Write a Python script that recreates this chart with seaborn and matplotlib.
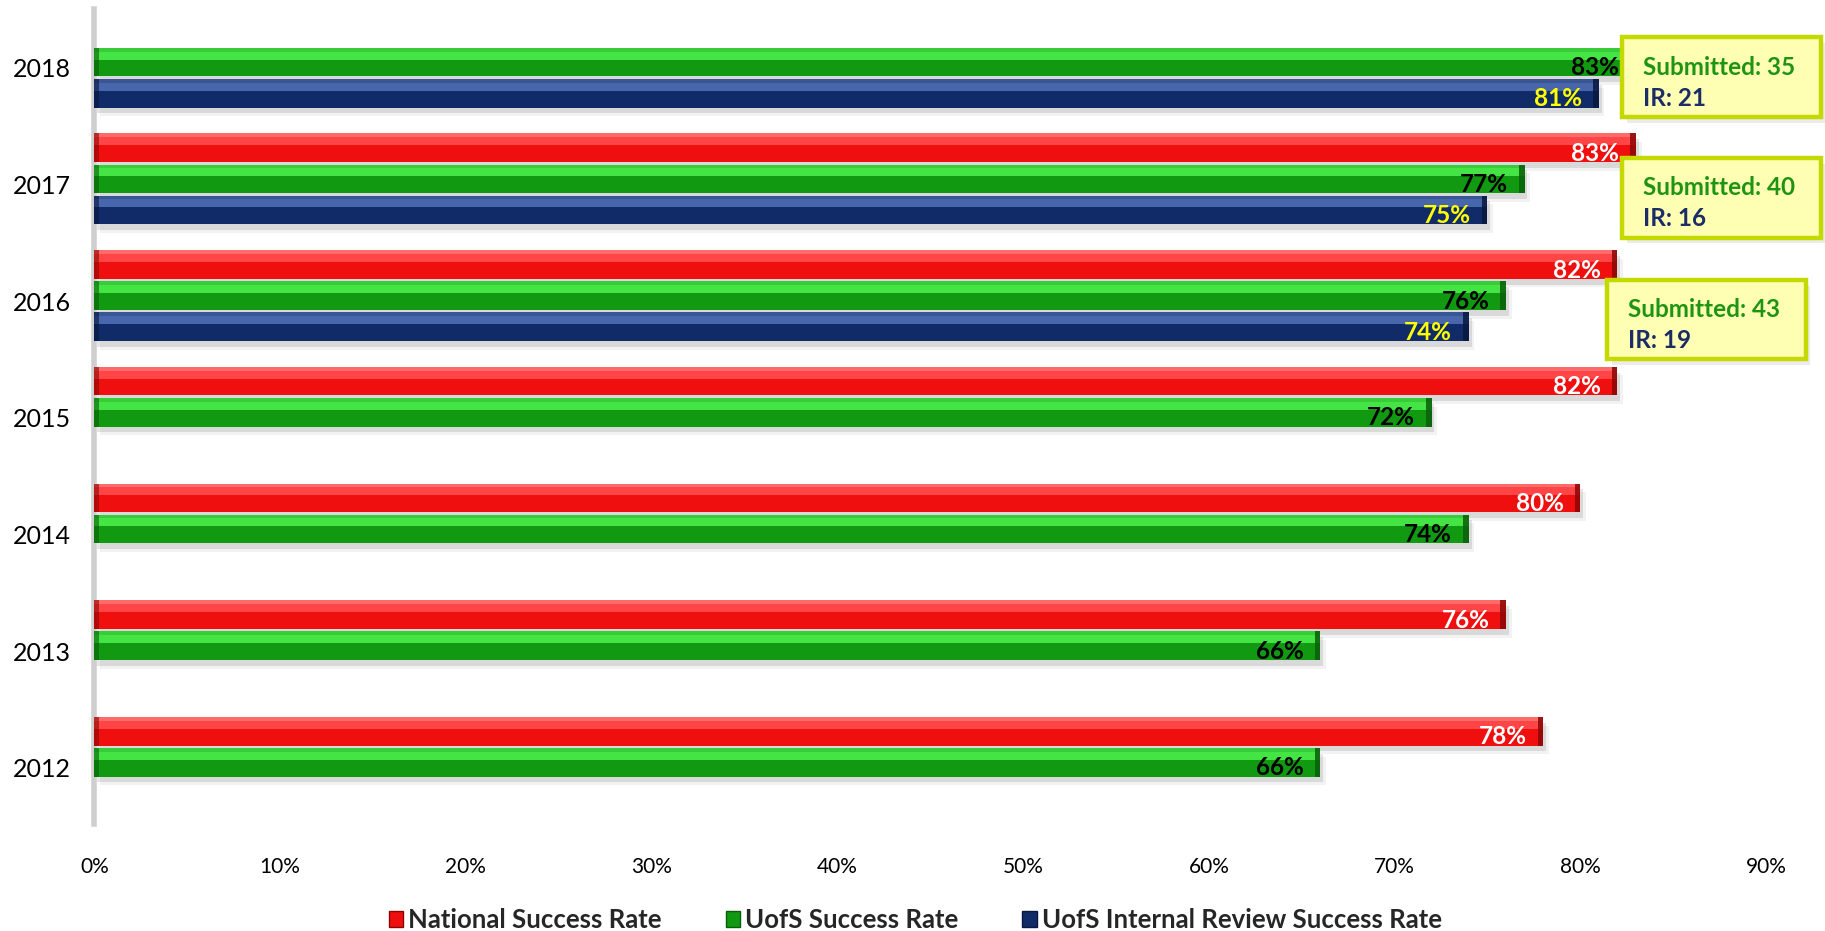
import matplotlib
matplotlib.use("Agg")
import matplotlib.pyplot as plt
import matplotlib.transforms as mtransforms
from matplotlib import font_manager
from matplotlib.patches import Rectangle, Patch
import numpy as np
import pandas as pd
import seaborn as sns

# ---- data -------------------------------------------------------------
years = ["2018", "2017", "2016", "2015", "2014", "2013", "2012"]
national_rate = [np.nan, 83, 82, 82, 80, 76, 78]
uofs_rate = [83, 77, 76, 72, 74, 66, 66]
internal_rate = [81, 75, 74, np.nan, np.nan, np.nan, np.nan]
series_names = ["National Success Rate", "UofS Success Rate",
                "UofS Internal Review Success Rate"]

note_years = ["2018", "2017", "2016"]
submitted = [35, 40, 43]
ir_count = [21, 16, 19]

x_ticks = [0, 10, 20, 30, 40, 50, 60, 70, 80, 90]

# ---- styling ----------------------------------------------------------
main_colors = ["#F00F0F", "#119A11", "#112A68"]
light_colors = ["#FF4545", "#45E445", "#4866AC"]
edge_colors = ["#FF6A6A", "#38CC38", "#3A5594"]
cap_colors = ["#8A0606", "#0A5E0A", "#08183E"]
label_colors = ["white", "black", "#FFFF00"]

sns.set_theme(style="white")
installed = {f.name for f in font_manager.fontManager.ttflist}
narrow = "Liberation Sans Narrow" if "Liberation Sans Narrow" in installed else "Lato"
plt.rcParams["font.family"] = ["Lato", "DejaVu Sans"]

df = pd.DataFrame({
    "Year": years * 3,
    "Series": [series_names[0]] * 7 + [series_names[1]] * 7 + [series_names[2]] * 7,
    "Rate": national_rate + uofs_rate + internal_rate,
})

fig = plt.figure(figsize=(18.25, 9.31), dpi=100)
ax = fig.add_axes([0.0517, 0.115, 0.9160, 0.875])

sns.barplot(data=df, y="Year", x="Rate", hue="Series", order=years,
            hue_order=series_names, palette=main_colors, orient="h",
            errorbar=None, width=0.8, gap=0.08, saturation=1,
            legend=False, ax=ax)

ax.set_xlim(0, 90)
ax.set_ylim(6.527, -0.453)

# ---- glossy bar rendering + value labels -------------------------------
for k, container in enumerate(ax.containers):
    for bar in list(container):
        w = bar.get_width()
        if not np.isfinite(w) or w <= 0:
            continue
        x0, y0, h = bar.get_x(), bar.get_y(), bar.get_height()
        bar.set_zorder(2)
        bar.set_edgecolor("none")
        # soft drop shadow
        ax.add_patch(Rectangle((x0 + 0.15, y0 + h * 0.20), w, h,
                               facecolor="#000000", alpha=0.10,
                               edgecolor="none", zorder=1.5))
        ax.add_patch(Rectangle((x0 + 0.3, y0 + h * 0.30), w, h,
                               facecolor="#000000", alpha=0.05,
                               edgecolor="none", zorder=1.4))
        # highlight bands across the top
        ax.add_patch(Rectangle((x0, y0), w, h * 0.13,
                               facecolor=edge_colors[k], edgecolor="none",
                               zorder=2.1))
        ax.add_patch(Rectangle((x0, y0 + h * 0.13), w, h * 0.28,
                               facecolor=light_colors[k], edgecolor="none",
                               zorder=2.1))
        # dark end caps
        ax.add_patch(Rectangle((x0 + w - 0.3, y0), 0.3, h,
                               facecolor=cap_colors[k], edgecolor="none",
                               alpha=0.85, zorder=2.2))
        ax.add_patch(Rectangle((x0, y0), 0.25, h,
                               facecolor=cap_colors[k], edgecolor="none",
                               alpha=0.6, zorder=2.2))
        ax.annotate(f"{w:.0f}%", xy=(x0 + w, y0 + h / 2),
                    xytext=(-12, -4), textcoords="offset points",
                    ha="right", va="center", fontsize=17.5, fontweight="bold",
                    color=label_colors[k], zorder=4)

# ---- axes cosmetics ----------------------------------------------------
for side in ["top", "right", "bottom"]:
    ax.spines[side].set_visible(False)
ax.spines["left"].set_color("#CFCFCF")
ax.spines["left"].set_linewidth(4)
ax.spines["left"].set_zorder(0.5)

ax.set_xticks(x_ticks)
ax.set_xticklabels([f"{t}%" for t in x_ticks], fontsize=15, family=narrow)
ax.set_yticks(range(len(years)))
ax.set_yticklabels(years, fontsize=18)
ax.tick_params(axis="x", length=0, pad=24, colors="black")
ax.tick_params(axis="y", length=0, pad=17, colors="black")
# year labels sit slightly below the centre of each group
shift = mtransforms.ScaledTranslation(0, -4 / 72, fig.dpi_scale_trans)
for lbl in ax.get_yticklabels():
    lbl.set_transform(lbl.get_transform() + shift)
ax.set_xlabel("")
ax.set_ylabel("")
ax.grid(False)

# ---- callout boxes -----------------------------------------------------
box_layout = [  # (left x, top offset from year, text x)
    (82.25, -0.213, 83.37),
    (82.25, -0.177, 83.37),
    (81.44, -0.133, 82.57),
]
box_w, box_h = 10.7, 0.68
for yr, n_sub, n_ir, (bx, dy, tx) in zip(note_years, submitted, ir_count, box_layout):
    top = years.index(yr) + dy
    ax.add_patch(Rectangle((bx + 0.25, top + 0.05), box_w, box_h,
                           facecolor="#000000", alpha=0.08, edgecolor="none",
                           clip_on=False, zorder=4.5))
    ax.add_patch(Rectangle((bx, top), box_w, box_h, facecolor="#FFFFB4",
                           edgecolor="#C3D900", linewidth=3.2,
                           clip_on=False, zorder=5))
    ax.text(tx, top + 0.255, f"Submitted: {n_sub}", ha="left", va="center",
            fontsize=17.5, fontweight="bold", color="#1E9412", zorder=6,
            clip_on=False)
    ax.text(tx, top + 0.52, f"IR: {n_ir}", ha="left", va="center",
            fontsize=17.5, fontweight="bold", color="#1C2C66", zorder=6,
            clip_on=False)

# ---- legend --------------------------------------------------------------
handles = [Patch(facecolor=c, edgecolor=cap_colors[i]) for i, c in enumerate(main_colors)]
ax.legend(handles, series_names, loc="center", bbox_to_anchor=(0.491, -0.118),
          ncol=3, frameon=False, prop={"weight": "bold", "size": 18.5},
          handlelength=0.55, handleheight=0.55, handletextpad=0.2,
          columnspacing=2.5)

fig.savefig("out.png", dpi=100, facecolor="white")
